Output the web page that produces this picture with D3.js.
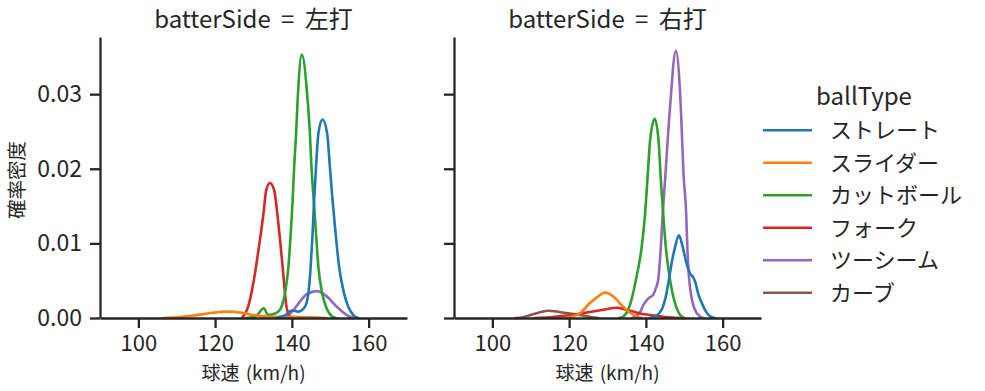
<!DOCTYPE html>
<html>
<head>
<meta charset="utf-8">
<script src="https://cdn.jsdelivr.net/npm/d3@7"></script>
<style>
  html, body { margin: 0; padding: 0; background: #fff; }
  svg { display: block; font-family: "Noto Sans CJK JP", "Noto Sans", sans-serif; }
</style>
</head>
<body>
<svg id="chart" width="985" height="391"></svg>
<script>
// ---- data ----
const categories = ["ストレート", "スライダー", "カットボール", "フォーク", "ツーシーム", "カーブ"];
const colors = ["#1f77b4", "#ff7f0e", "#2ca02c", "#d62728", "#9467bd", "#8c564b"];
const panels = ["左打", "右打"];
const xTicks = [100, 120, 140, 160];
const yTicks = [0, 0.01, 0.02, 0.03];
const yTickLabels = ["0.00", "0.01", "0.02", "0.03"];

// 左打 : [speed, density]
const leftStraight = [[136,0],[138,0.0003],[140.0,0.001],[141.7,0.00085],[143.4,0.0015],[144.3,0.0033],[144.9,0.0069],[145.4,0.0113],[145.8,0.0158],[146.3,0.0203],[146.9,0.0247],[148.0,0.0266],[149.2,0.0247],[149.9,0.0203],[150.6,0.0158],[151.4,0.0113],[152.3,0.0069],[153.6,0.0033],[154.7,0.0015],[156,0.0004],[157.3,0]];
const leftSlider = [[106.5,0],[110,0.0001],[114,0.0003],[118,0.0006],[123,0.00085],[127,0.0007],[130,0.0004],[134,0.0002],[140,0.00015],[145,0.0001],[149,0]];
const leftCutter = [[128,0],[130.5,0.0002],[132.7,0.0013],[133.8,0.0004],[135,0.0005],[136.3,0.0008],[137.3,0.0015],[138.2,0.0033],[139.1,0.0069],[139.7,0.0113],[140.2,0.0158],[140.6,0.0203],[141.1,0.0247],[141.5,0.0292],[142.6,0.0353],[144.1,0.0292],[144.7,0.0247],[145.1,0.0203],[145.7,0.0158],[146.3,0.0113],[146.9,0.0069],[147.9,0.0033],[148.9,0.0015],[150.8,0.0001],[151.5,0]];
const leftFork = [[127,0],[128.6,0.0015],[130.1,0.0051],[131.4,0.0095],[132.6,0.014],[133.3,0.0171],[134.3,0.0181],[135.4,0.0171],[136.2,0.014],[137.1,0.0095],[137.9,0.0051],[138.6,0.0015],[139.5,0.0002],[140.5,0]];
const leftTwoSeam = [[137,0],[139,0.0004],[140.5,0.0011],[142.1,0.0022],[143.9,0.0032],[146.5,0.0036],[149.1,0.0029],[151.7,0.0015],[154.3,0.0004],[156,0]];
const leftCurve = [];

// 右打 : [speed, density]
const rightStraight = [[141,0],[142.4,0.0002],[144.1,0.0011],[145.2,0.0029],[146.0,0.0051],[146.7,0.0073],[147.6,0.0095],[148.6,0.0111],[149.6,0.0095],[150.6,0.0073],[151.5,0.006],[152.4,0.0054],[153.0,0.0046],[153.6,0.0033],[154.4,0.0022],[155.4,0.0011],[157.2,0.0001],[158,0]];
const rightSlider = [[118.5,0],[120,0.0001],[122.8,0.0006],[125.4,0.002],[127.6,0.0029],[129.3,0.0034],[131.5,0.0029],[133.7,0.0017],[135.9,0.0007],[137.6,0.0002],[139,0]];
const rightCutter = [[133,0],[134.1,0.0002],[135.7,0.0015],[137.4,0.0051],[138.9,0.0095],[139.8,0.014],[140.4,0.0185],[141.1,0.0238],[142.3,0.0267],[143.3,0.0238],[143.9,0.0185],[144.5,0.014],[145.2,0.0095],[146.3,0.0051],[147.9,0.0015],[149.3,0.0002],[150,0]];
const rightFork = [[111,0],[115,0.0001],[119,0.0003],[122,0.0005],[125.4,0.0008],[128.9,0.0011],[132.3,0.00137],[135,0.0011],[138.5,0.0006],[142.8,0.0003],[146,0.0001],[150,0]];
const rightTwoSeam = [[136.5,0],[138.5,0.0008],[139.3,0.0017],[140.6,0.0026],[141.9,0.0031],[142.6,0.004],[143.2,0.0051],[143.9,0.0095],[144.4,0.014],[145.0,0.0185],[146.3,0.0283],[147.8,0.0358],[149.1,0.0283],[149.8,0.0194],[150.5,0.014],[150.8,0.0095],[151.3,0.0051],[152.5,0.0015],[154.1,0.0002],[155,0]];
const rightCurve = [[106,0],[108,0.0001],[110,0.0004],[112.4,0.00076],[114.6,0.00098],[117.6,0.00078],[120.2,0.0006],[122.8,0.0004],[125,0.0002],[127.6,0]];

const panelSeries = [
  [leftStraight, leftSlider, leftCutter, leftFork, leftTwoSeam, leftCurve],
  [rightStraight, rightSlider, rightCutter, rightFork, rightTwoSeam, rightCurve]
];

// ---- layout ----
const svg = d3.select("#chart");
const ink = "#262626";
const panelLeft = [100, 454];
const panelWidth = 307;
const plotTop = 37, plotBottom = 318;

const y = d3.scaleLinear().domain([0, 0.03766]).range([plotBottom, plotTop]);

panels.forEach((p, pi) => {
  const x = d3.scaleLinear().domain([90, 170]).range([panelLeft[pi], panelLeft[pi] + panelWidth]);
  const g = svg.append("g");

  // curves (drawn in reverse hue order like seaborn)
  const line = d3.line().x(d => x(d[0])).y(d => y(d[1])).curve(d3.curveMonotoneX);
  for (let i = categories.length - 1; i >= 0; i--) {
    const s = panelSeries[pi][i];
    if (!s.length) continue;
    g.append("path").datum(s)
      .attr("d", line)
      .attr("fill", "none")
      .attr("stroke", colors[i])
      .attr("stroke-width", 2.6)
      .attr("stroke-linejoin", "round")
      .attr("stroke-linecap", "round");
  }

  // x axis
  const xAxis = d3.axisBottom(x).tickValues(xTicks).tickFormat(d3.format("d"))
    .tickSize(10).tickPadding(7.4).tickSizeOuter(0);
  const gx = g.append("g").attr("transform", `translate(0,${plotBottom})`).call(xAxis);
  gx.select(".domain").attr("stroke", ink).attr("stroke-width", 2.3);
  gx.selectAll(".tick line").attr("stroke", ink).attr("stroke-width", 2.3);
  gx.selectAll(".tick text").attr("fill", ink).style("font-size", "22px")
    .style("font-family", '"Noto Sans CJK JP", sans-serif');

  // y axis
  const yAxis = d3.axisLeft(y).tickValues(yTicks)
    .tickFormat((d, i) => pi === 0 ? yTickLabels[i] : "")
    .tickSize(10).tickPadding(8).tickSizeOuter(0);
  const gy = g.append("g").attr("transform", `translate(${panelLeft[pi]},0)`).call(yAxis);
  gy.select(".domain").attr("stroke", ink).attr("stroke-width", 2.3);
  gy.selectAll(".tick line").attr("stroke", ink).attr("stroke-width", 2.3);
  gy.selectAll(".tick text").attr("fill", ink).style("font-size", "23px")
    .style("font-family", '"Noto Sans CJK JP", sans-serif');

  const cx = panelLeft[pi] + panelWidth / 2;
  // title
  g.append("text").attr("x", cx).attr("y", 28).attr("text-anchor", "middle")
    .attr("fill", ink).style("font-size", "24px").style("word-spacing", "5px")
    .text(`batterSide = ${p}`);
  // x label
  g.append("text").attr("x", cx).attr("y", 380).attr("text-anchor", "middle")
    .attr("fill", ink).style("font-size", "19px").style("word-spacing", "2px")
    .text("球速 (km/h)");
});

// y label
svg.append("text")
  .attr("transform", "translate(24,180) rotate(-90)")
  .attr("text-anchor", "middle")
  .attr("fill", ink).style("font-size", "19.5px")
  .text("確率密度");

// legend
const lg = svg.append("g");
lg.append("text").attr("x", 864).attr("y", 105).attr("text-anchor", "middle")
  .attr("fill", ink).style("font-size", "24px").text("ballType");
categories.forEach((c, i) => {
  const ly = 130.3 + i * 32.5;
  lg.append("line").attr("x1", 763).attr("x2", 812).attr("y1", ly).attr("y2", ly)
    .attr("stroke", colors[i]).attr("stroke-width", 2.6);
  lg.append("text").attr("x", 830).attr("y", ly + 8).attr("fill", ink)
    .style("font-size", "22px").text(c);
});
</script>
</body>
</html>
